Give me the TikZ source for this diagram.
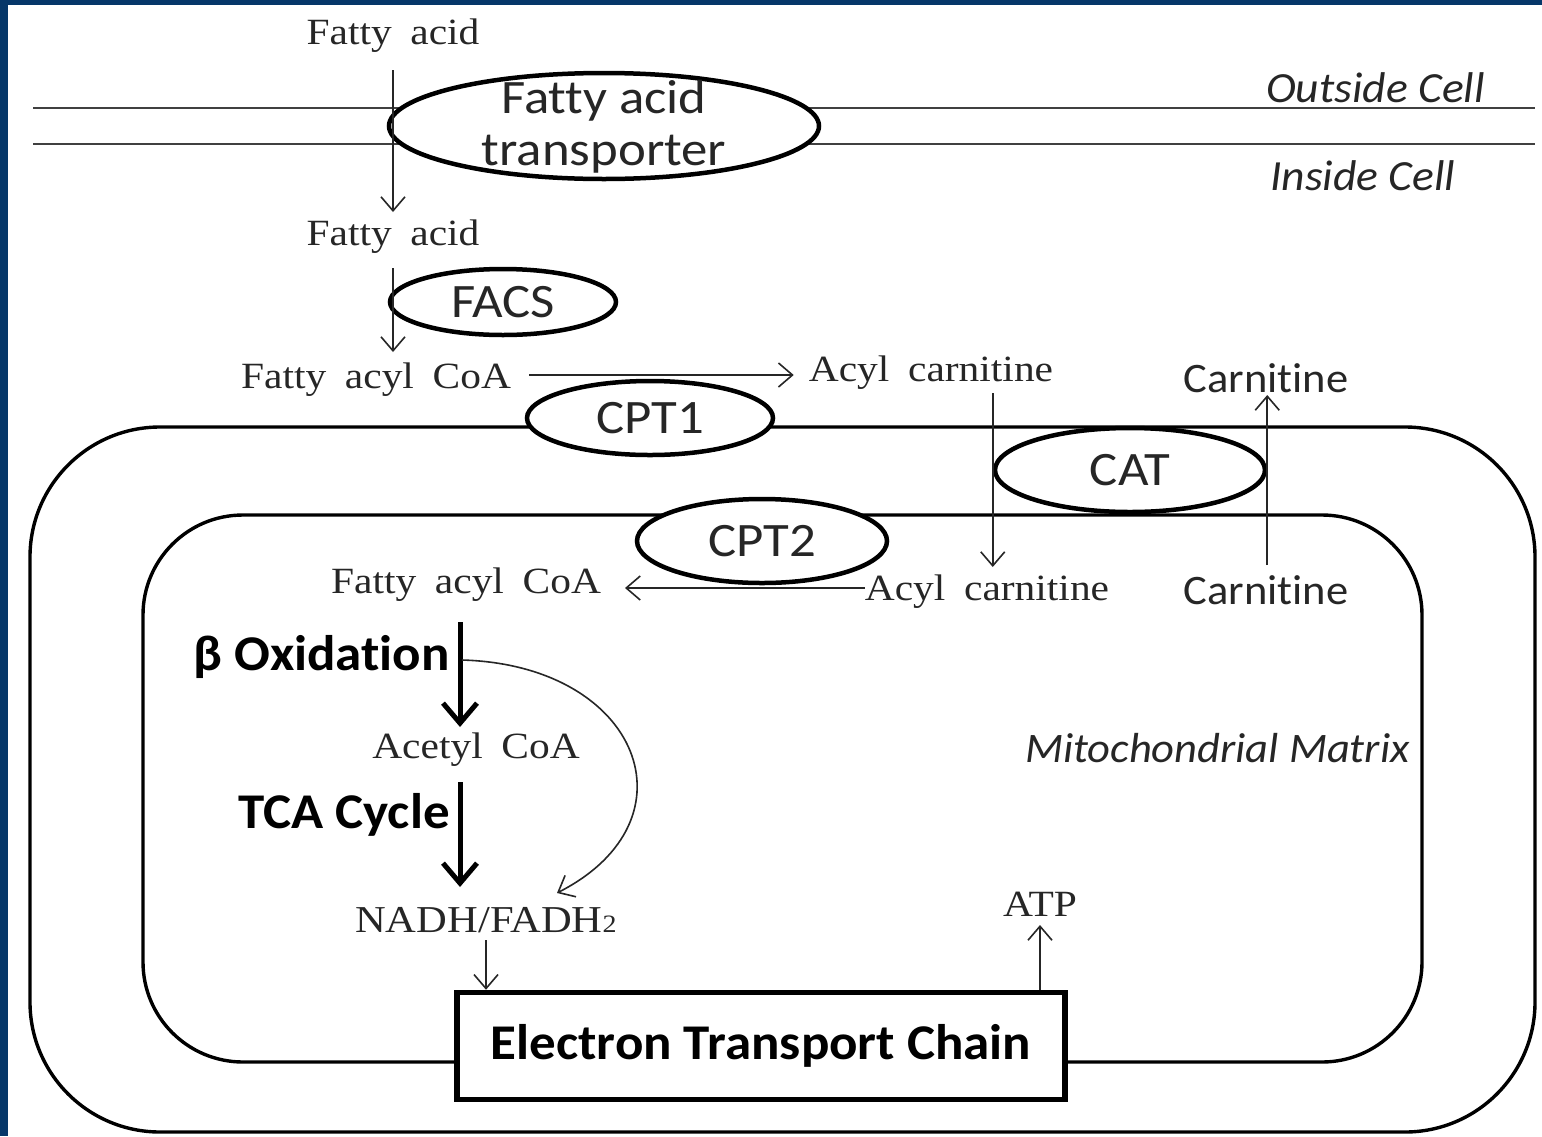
\documentclass[tikz,border=0pt]{standalone}
\usepackage{fontspec}
\setmainfont{Liberation Serif}[FakeStretch=1.12,WordSpace=1.8]
\newfontfamily\calfont{Carlito}[FakeStretch=1.06,Ligatures=CommonOff]
\newfontfamily\enzfont{Carlito}[FakeStretch=1.1,Ligatures=CommonOff]
\usetikzlibrary{shapes.geometric,arrows.meta}
\definecolor{frameblue}{RGB}{6,55,105}
\tikzset{
  memb/.style={draw=black!75,line width=2.6pt},
  mito/.style={draw=black,line width=3.4pt},
  enz/.style={ellipse,draw=black,line width=4.5pt,fill=white,inner sep=0pt,
    font=\enzfont\fontsize{48}{52}\selectfont,text=black!85},
  ser/.style={inner sep=0pt,font=\fontsize{37}{44}\selectfont,text=black!85},
  sans/.style={inner sep=0pt,font=\calfont\fontsize{42}{48}\selectfont,text=black!85},
  sansit/.style={inner sep=0pt,font=\calfont\itshape\fontsize{43}{48}\selectfont,text=black!85},
  sansbf/.style={inner sep=0pt,font=\calfont\bfseries\fontsize{50}{56}\selectfont,text=black},
  arr/.style={draw=black!85,line width=1.6pt,-{Straight Barb[length=14pt,width=24pt,line width=1.6pt]}},
  barr/.style={draw=black,line width=5pt,-{Straight Barb[length=20pt,width=34pt,line width=5pt]}},
}
\begin{document}
\begin{tikzpicture}[x=1pt,y=-1pt]
\useasboundingbox (0,0) rectangle (1542,1136);
\fill[white] (0,0) rectangle (1542,1136);
\fill[frameblue] (0,0) rectangle (1542,5);
\fill[frameblue] (0,0) rectangle (8,1136);

% cell membrane
\draw[memb] (33,108) -- (1535,108);
\draw[memb] (33,144) -- (1535,144);
\node[sansit,anchor=east] (outside) at (1485,88) {Outside Cell};
\node[sansit,anchor=west] (inside) at (1270,176) {Inside Cell};

% mitochondrial membranes
\draw[mito,rounded corners=130pt] (30,427) rectangle (1535,1132);
\draw[mito,rounded corners=100pt] (143,515) rectangle (1422,1062);

% enzymes
\node[enz,minimum width=430pt,minimum height=106pt] (fat) at (604,126) {};
\node[inner sep=0pt,align=center,font=\enzfont\fontsize{48}{52}\selectfont,text=black!85] (fattext) at (604,127) {Fatty acid\\transporter};
\node[enz,minimum width=226pt,minimum height=66pt] (facs) at (503,302) {FACS};
\node[enz,minimum width=246pt,minimum height=74pt] (cpt1) at (650,418) {CPT1};
\node[enz,minimum width=270pt,minimum height=84pt] (cat) at (1130,470) {CAT};
\node[enz,minimum width=250pt,minimum height=84pt] (cpt2) at (762,541) {CPT2};

% metabolites
\node[ser] (fa1) at (393,36) {Fatty acid};
\node[ser] (fa2) at (393,237) {Fatty acid};
\node[ser] (facoa1) at (376,380) {Fatty acyl CoA};
\node[ser] (acar1) at (931,373) {Acyl carnitine};
\node[sans] (carn1) at (1266,378) {Carnitine};
\node[ser] (facoa2) at (466,585) {Fatty acyl CoA};
\node[ser] (acar2) at (987,592) {Acyl carnitine};
\node[sans] (carn2) at (1266,590) {Carnitine};
\node[ser] (acoa) at (476,750) {Acetyl CoA};
\node[ser,font=\fontsize{38}{44}\selectfont] (nadh) at (486,920) {NADH/FADH{\fontsize{25}{25}\selectfont 2}};
\node[ser] (atp) at (1040,904) {ATP};
\node[sansit,font=\calfont\itshape\fontsize{42}{48}\selectfont,anchor=east] (matrix) at (1410,748) {Mitochondrial Matrix};
\node[sansbf,anchor=east] (boxa) at (450,657) {β Oxidation};
\node[sansbf,anchor=east] (tca) at (450,815) {TCA Cycle};

\node[draw=black,line width=5.5pt,fill=white,minimum width=608pt,minimum height=107pt,
  font=\calfont\bfseries\fontsize{50}{56}\selectfont] (etc) at (761,1046) {Electron Transport Chain};

% connectors
\draw[arr] (fa1 |- 0,70) -- (fa1 |- 0,212);
\draw[arr] (fa2 |- 0,268) -- (fa2 |- 0,352);
\draw[arr,shorten <=18pt,shorten >=15pt] (facoa1.east |- 0,375) -- (acar1.west |- 0,375);
\draw[arr] (cat.west |- 0,393) -- (cat.west |- 0,567);
\draw[arr] (cat.east |- 0,565) -- (cat.east |- 0,395);
\draw[arr] (acar2.west |- 0,588) -- (625,588);
\draw[barr] (460,622) -- (460,727);
\draw[barr] (460,782) -- (460,887);
\coordinate (cstart) at (462,660);
\draw[arr] (cstart) .. controls (640,665) and (700,820) .. (557,893);
\draw[arr] (nadh.south |- 0,940) -- (nadh.south |- etc.north);
\draw[arr] (etc.north -| atp) -- (atp |- 0,925);
\end{tikzpicture}
\end{document}
